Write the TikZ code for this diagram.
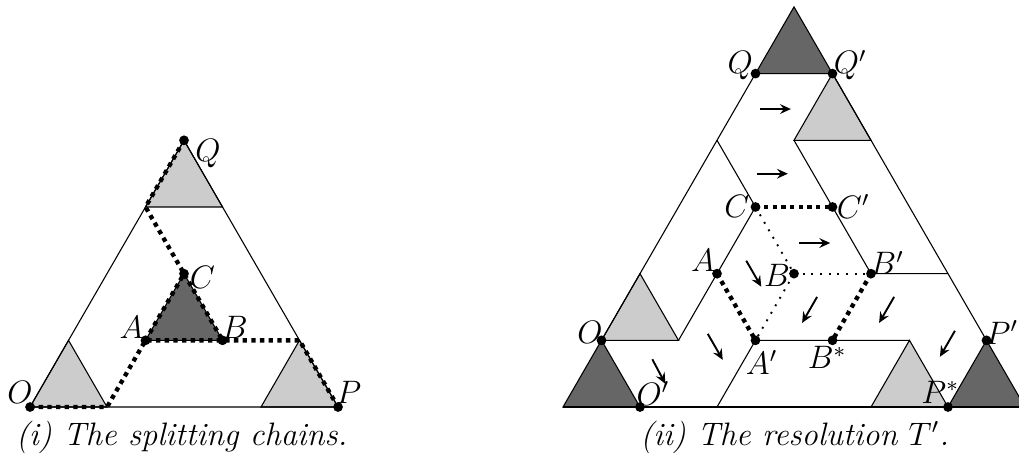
\documentclass[tikz,border=0pt]{standalone}
\usetikzlibrary{arrows.meta}
\begin{document}
\begin{tikzpicture}[
  light/.style={fill=gray!40,draw=black},
  dark/.style={fill=black!60,draw=black},
  chain/.style={line width=1.6pt,dash pattern=on 1.6pt off 1.6pt},
  faint/.style={line width=0.7pt,dash pattern=on 0.7pt off 2.5pt},
  flow/.style={-{Stealth[length=4pt,width=3.6pt,inset=1.4pt]},line width=0.7pt},
  every node/.style={font=\fontsize{12}{14.4}\selectfont}]
\useasboundingbox (-7.312,-0.649) rectangle (5.922,5.286);
\def\rowh{0.866}
% (i) splitting chains
\begin{scope}[xshift=-6.922cm]
\coordinate (O) at (0,0);
\coordinate (P) at (4,0);
\coordinate (Q) at (2,4*\rowh);
\coordinate (A) at (1.5,\rowh);
\coordinate (B) at (2.5,\rowh);
\coordinate (C) at (2,2*\rowh);
\coordinate (o1) at (1,0);
\coordinate (p1) at (3.5,\rowh);
\coordinate (q1) at (1.5,3*\rowh);
\draw[light] (O) -- (o1) -- (0.5,\rowh) -- cycle;
\draw[light] (3,0) -- (P) -- (p1) -- cycle;
\draw[light] (q1) -- (2.5,3*\rowh) -- (Q) -- cycle;
\draw[dark] (A) -- (B) -- (C) -- cycle;
\draw (O) -- (P) -- (Q) -- cycle;
\draw[chain] (O) -- (o1) -- (A) -- (B) -- (p1) -- (P);
\draw[chain] (Q) -- (q1) -- (C);
\draw[chain] (A) -- (C) -- (B);
\fill (O) circle (1.8pt);
\fill (P) circle (1.8pt);
\fill (Q) circle (1.8pt);
\fill (A) circle (1.8pt);
\fill (B) circle (1.8pt);
\fill (C) circle (1.8pt);
\node (lO) at (-0.13,0.19) {$O$};
\node (lP) at (4.14,0.19) {$P$};
\node (lQ) at (2.31,3.29) {$Q$};
\node (lA) at (1.32,1.04) {$A$};
\node (lB) at (2.66,1.04) {$B$};
\node (lC) at (2.24,1.68) {$C$};
\node (cap1) at (1.97,-0.39) {\textit{(i) The splitting chains.}};
\end{scope}
% (ii) the resolution
\begin{scope}
\coordinate (tO) at (0.5,\rowh);
\coordinate (tOp) at (1,0);
\coordinate (tQ) at (2.5,5*\rowh);
\coordinate (tQp) at (3.5,5*\rowh);
\coordinate (tPp) at (5.5,\rowh);
\coordinate (tPs) at (5,0);
\coordinate (tC) at (2.5,3*\rowh);
\coordinate (tCp) at (3.5,3*\rowh);
\coordinate (tA) at (2,2*\rowh);
\coordinate (tB) at (3,2*\rowh);
\coordinate (tBp) at (4,2*\rowh);
\coordinate (tAp) at (2.5,\rowh);
\coordinate (tBs) at (3.5,\rowh);
\draw[dark] (0,0) -- (tOp) -- (tO) -- cycle;
\draw[dark] (tQ) -- (tQp) -- (3,6*\rowh) -- cycle;
\draw[dark] (tPs) -- (6,0) -- (tPp) -- cycle;
\draw[light] (tO) -- (1.5,\rowh) -- (1,2*\rowh) -- cycle;
\draw[light] (3,4*\rowh) -- (4,4*\rowh) -- (tQp) -- cycle;
\draw[light] (4,0) -- (tPs) -- (4.5,\rowh) -- cycle;
\draw (0,0) -- (6,0);
\draw (tO) -- (tQ);
\draw (tQp) -- (tPp);
\draw (2,4*\rowh) -- (tC) -- (1.5,\rowh);
\draw (3,4*\rowh) -- (tBp) -- (5,2*\rowh);
\draw (2,0) -- (tAp) -- (4.5,\rowh);
\draw[chain] (tC) -- (tCp);
\draw[chain] (tA) -- (tAp);
\draw[chain] (tBp) -- (tBs);
\draw[faint] (tC) -- (tB) -- (tAp);
\draw[faint] (tB) -- (tBp);
\draw[flow] (2.56,3.87) -- ++(0:0.4);
\draw[flow] (2.52,3.03) -- ++(0:0.4);
\draw[flow] (3.07,2.13) -- ++(0:0.4);
\draw[flow] (2.38,1.90) -- ++(-60:0.39);
\draw[flow] (1.88,0.95) -- ++(-60:0.39);
\draw[flow] (1.16,0.62) -- ++(-62:0.36);
\draw[flow] (3.30,1.43) -- ++(-120:0.39);
\draw[flow] (4.30,1.43) -- ++(-120:0.39);
\draw[flow] (5.09,0.99) -- ++(-120:0.39);
\fill (tO) circle (1.8pt);
\fill (tOp) circle (1.8pt);
\fill (tQ) circle (1.8pt);
\fill (tQp) circle (1.8pt);
\fill (tPp) circle (1.8pt);
\fill (tPs) circle (1.8pt);
\fill (tC) circle (1.8pt);
\fill (tCp) circle (1.8pt);
\fill (tA) circle (1.8pt);
\fill (tB) circle (1.8pt);
\fill (tBp) circle (1.8pt);
\fill (tAp) circle (1.8pt);
\fill (tBs) circle (1.8pt);
\node (ltQ) at (2.30,4.44) {$Q$};
\node (ltQp) at (3.73,4.44) {$Q'$};
\node (ltC) at (2.26,2.60) {$C$};
\node (ltCp) at (3.77,2.60) {$C'$};
\node (ltA) at (1.82,1.91) {$A$};
\node (ltB) at (2.78,1.71) {$B$};
\node (ltBp) at (4.21,1.87) {$B'$};
\node (ltAp) at (2.58,0.58) {$A'$};
\node (ltBs) at (3.43,0.64) {$B^*$};
\node (ltO) at (0.35,0.97) {$O$};
\node (ltOp) at (1.17,0.18) {$O'$};
\node (ltPp) at (5.70,0.97) {$P'$};
\node (ltPs) at (4.90,0.19) {$P^*$};
\node (cap2) at (3.01,-0.39) {\textit{(ii) The resolution $T'$.}};
\end{scope}
\end{tikzpicture}
\end{document}
